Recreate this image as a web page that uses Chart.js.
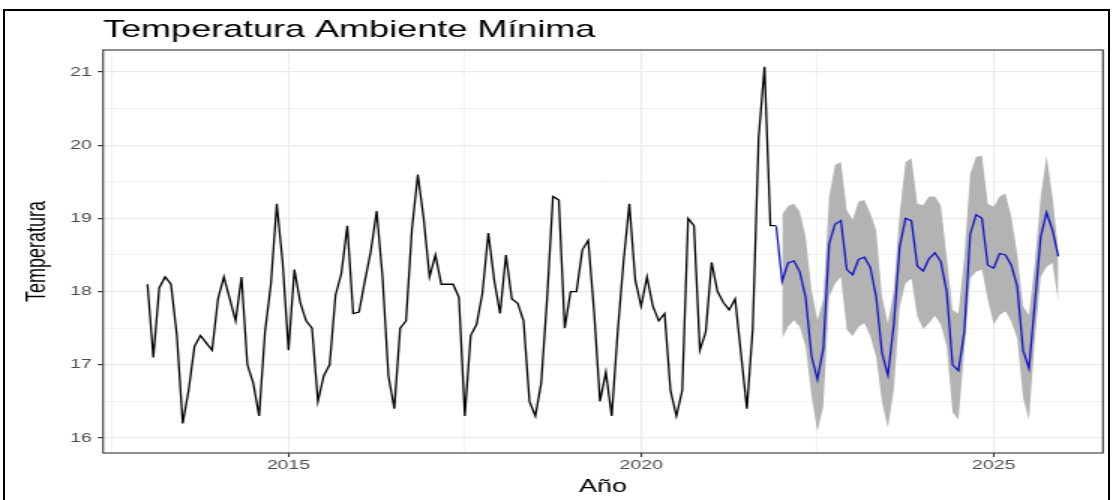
<!DOCTYPE html>
<html>
<head>
<meta charset="utf-8">
<script src="https://cdn.jsdelivr.net/npm/chart.js@4.4.1/dist/chart.umd.min.js"></script>
<style>
    html, body { margin: 0; padding: 0; background: #fff; }
    #wrap { position: relative; width: 1113px; height: 500px; overflow: hidden; }
    #frame { position: absolute; left: 3px; top: 9px; width: 1103px; height: 520px; border: 2px solid #000; pointer-events: none; }
</style>
</head>
<body>
<div id="wrap">
    <canvas id="myChart" width="742" height="500" style="width:1113px;height:500px"></canvas>
    <div id="frame"></div>
</div>
<script>
// Serie observada: mensual, ene 2013 - dic 2021
const inicioObs = 2013;
const observado = [
    18.1, 17.1, 18.05, 18.2, 18.1, 17.4, 16.2, 16.65, 17.25, 17.4, 17.3, 17.2,
    17.9, 18.2, 17.9, 17.6, 18.2, 17.0, 16.75, 16.3, 17.45, 18.1, 19.2, 18.4,
    17.2, 18.3, 17.85, 17.6, 17.5, 16.5, 16.85, 17.0, 17.95, 18.25, 18.9, 17.7,
    17.72, 18.15, 18.55, 19.1, 18.2, 16.85, 16.4, 17.5, 17.6, 18.85, 19.6, 19.0,
    18.2, 18.5, 18.1, 18.1, 18.1, 17.92, 16.3, 17.4, 17.55, 17.98, 18.8, 18.16,
    17.7, 18.5, 17.9, 17.84, 17.6, 16.5, 16.3, 16.75, 17.9, 19.3, 19.25, 17.5,
    18.0, 18.0, 18.57, 18.7, 17.73, 16.5, 16.9, 16.3, 17.43, 18.4, 19.2, 18.16,
    17.8, 18.2, 17.8, 17.6, 17.7, 16.65, 16.3, 16.65, 19.0, 18.9, 17.2, 17.45,
    18.4, 18.0, 17.85, 17.75, 17.9, 17.15, 16.4, 17.5, 20.1, 21.07, 18.9, 18.9
];

// Pronóstico: dic 2021 - dic 2025
const inicioPron = 2021 + 11 / 12;
const pronostico = [
    18.89,
    18.14, 18.39, 18.42, 18.27, 17.92, 17.12, 16.8, 17.22, 18.65, 18.92, 18.97, 18.3,
    18.23, 18.44, 18.47, 18.33, 17.93, 17.16, 16.86, 17.55, 18.61, 19.0, 18.97, 18.35,
    18.28, 18.45, 18.53, 18.41, 18.0, 17.0, 16.92, 17.45, 18.78, 19.05, 19.0, 18.36,
    18.32, 18.52, 18.5, 18.36, 18.07, 17.2, 16.95, 17.84, 18.75, 19.08, 18.84, 18.48
];

// Intervalo de predicción: ene 2022 - dic 2025
const inicioBanda = 2022;
const limiteSup = [
    19.05, 19.17, 19.2, 19.09, 18.75, 18.02, 17.61, 17.9, 19.3, 19.73, 19.77, 19.11,
    18.98, 19.23, 19.25, 19.07, 18.84, 17.93, 17.57, 18.02, 19.07, 19.77, 19.82, 19.2,
    19.18, 19.3, 19.3, 19.18, 18.48, 17.75, 17.7, 18.48, 19.61, 19.84, 19.86, 19.2,
    19.16, 19.3, 19.34, 19.02, 18.52, 17.8, 17.68, 18.39, 19.3, 19.86, 19.3, 18.55
];
const limiteInf = [
    17.36, 17.52, 17.61, 17.52, 17.25, 16.57, 16.09, 16.43, 17.93, 18.11, 18.2, 17.48,
    17.39, 17.52, 17.57, 17.39, 17.11, 16.48, 16.14, 16.66, 17.8, 18.11, 18.18, 17.66,
    17.49, 17.57, 17.67, 17.55, 17.25, 16.35, 16.25, 17.2, 18.18, 18.27, 18.3, 17.89,
    17.55, 17.68, 17.73, 17.59, 17.36, 16.55, 16.25, 17.34, 18.2, 18.34, 18.39, 17.85
];

const ticksX = [2015, 2020, 2025];
const ticksXMenores = [2012.5, 2017.5, 2022.5];
const ticksY = [16, 17, 18, 19, 20, 21];
const ticksYMenores = [16.5, 17.5, 18.5, 19.5, 20.5];

// Puntos mensuales a partir de un inicio
function aPuntos(inicio, valores) {
    return valores.map((v, i) => ({ x: inicio + i / 12, y: v }));
}

const fuente = "'Liberation Sans', Arial, sans-serif";
Chart.defaults.font.family = fuente;

// Borde del panel
const bordePanel = {
    id: 'bordePanel',
    afterDraw(chart) {
        const a = chart.chartArea;
        const c = chart.ctx;
        c.save();
        c.strokeStyle = '#444';
        c.lineWidth = 1.2;
        c.strokeRect(a.left, a.top, a.right - a.left, a.bottom - a.top);
        c.restore();
    }
};

const esMayorX = v => ticksX.includes(v);
const esMayorY = v => ticksY.includes(v);

const ctx = document.getElementById('myChart').getContext('2d');
new Chart(ctx, {
    type: 'line',
    data: {
        datasets: [
            {
                label: 'Pronóstico',
                data: aPuntos(inicioPron, pronostico),
                borderColor: '#1414c8',
                borderWidth: 1.3,
                pointRadius: 0,
                tension: 0,
                fill: false
            },
            {
                label: 'Observado',
                data: aPuntos(inicioObs, observado),
                borderColor: '#000',
                borderWidth: 1.3,
                pointRadius: 0,
                tension: 0,
                fill: false
            },
            {
                label: 'Superior',
                data: aPuntos(inicioBanda, limiteSup),
                borderWidth: 0,
                borderColor: 'rgba(0,0,0,0)',
                backgroundColor: '#b3b3b3',
                pointRadius: 0,
                tension: 0,
                fill: '+1'
            },
            {
                label: 'Inferior',
                data: aPuntos(inicioBanda, limiteInf),
                borderWidth: 0,
                borderColor: 'rgba(0,0,0,0)',
                pointRadius: 0,
                tension: 0,
                fill: false
            }
        ]
    },
    options: {
        responsive: false,
        animation: false,
        layout: { padding: { left: 13.9, right: 6.67, top: 0, bottom: 0 } },
        plugins: {
            legend: { display: false },
            tooltip: { enabled: false },
            title: {
                display: true,
                text: 'Temperatura Ambiente Mínima',
                align: 'start',
                fullSize: false,
                color: '#000',
                font: { size: 24, weight: 'normal' },
                padding: { top: 16, bottom: 5.2 }
            }
        },
        scales: {
            x: {
                type: 'linear',
                min: 2012.37,
                max: 2026.55,
                afterBuildTicks: s => {
                    s.ticks = ticksXMenores.concat(ticksX).sort((a, b) => a - b).map(v => ({ value: v }));
                },
                afterFit: s => { s.height = 47; },
                border: { display: false },
                grid: {
                    color: '#ebebeb',
                    lineWidth: c => esMayorX(c.tick.value) ? 1.1 : 0.6,
                    tickLength: 4,
                    tickColor: c => esMayorX(c.tick.value) ? '#333' : 'rgba(0,0,0,0)'
                },
                ticks: {
                    autoSkip: false,
                    maxRotation: 0,
                    color: '#4d4d4d',
                    font: { size: 13 },
                    padding: 1,
                    callback: v => esMayorX(v) ? String(v) : ''
                },
                title: {
                    display: true,
                    text: 'Año',
                    color: '#000',
                    font: { size: 18 },
                    padding: { top: 0, bottom: 2 }
                }
            },
            y: {
                min: 15.795,
                max: 21.3,
                afterBuildTicks: s => {
                    s.ticks = ticksYMenores.concat(ticksY).sort((a, b) => a - b).map(v => ({ value: v }));
                },
                afterFit: s => { s.width = 54.8; },
                border: { display: false },
                grid: {
                    color: '#ebebeb',
                    lineWidth: c => esMayorY(c.tick.value) ? 1.2 : 0.7,
                    tickLength: 3.5,
                    tickColor: c => esMayorY(c.tick.value) ? '#333' : 'rgba(0,0,0,0)'
                },
                ticks: {
                    color: '#4d4d4d',
                    font: { size: 13 },
                    padding: 4,
                    callback: v => esMayorY(v) ? String(v) : ''
                },
                title: {
                    display: true,
                    text: 'Temperatura',
                    color: '#000',
                    font: { size: 18 },
                    padding: { top: 0, bottom: 0 }
                }
            }
        }
    },
    plugins: [bordePanel]
});
</script>
</body>
</html>
